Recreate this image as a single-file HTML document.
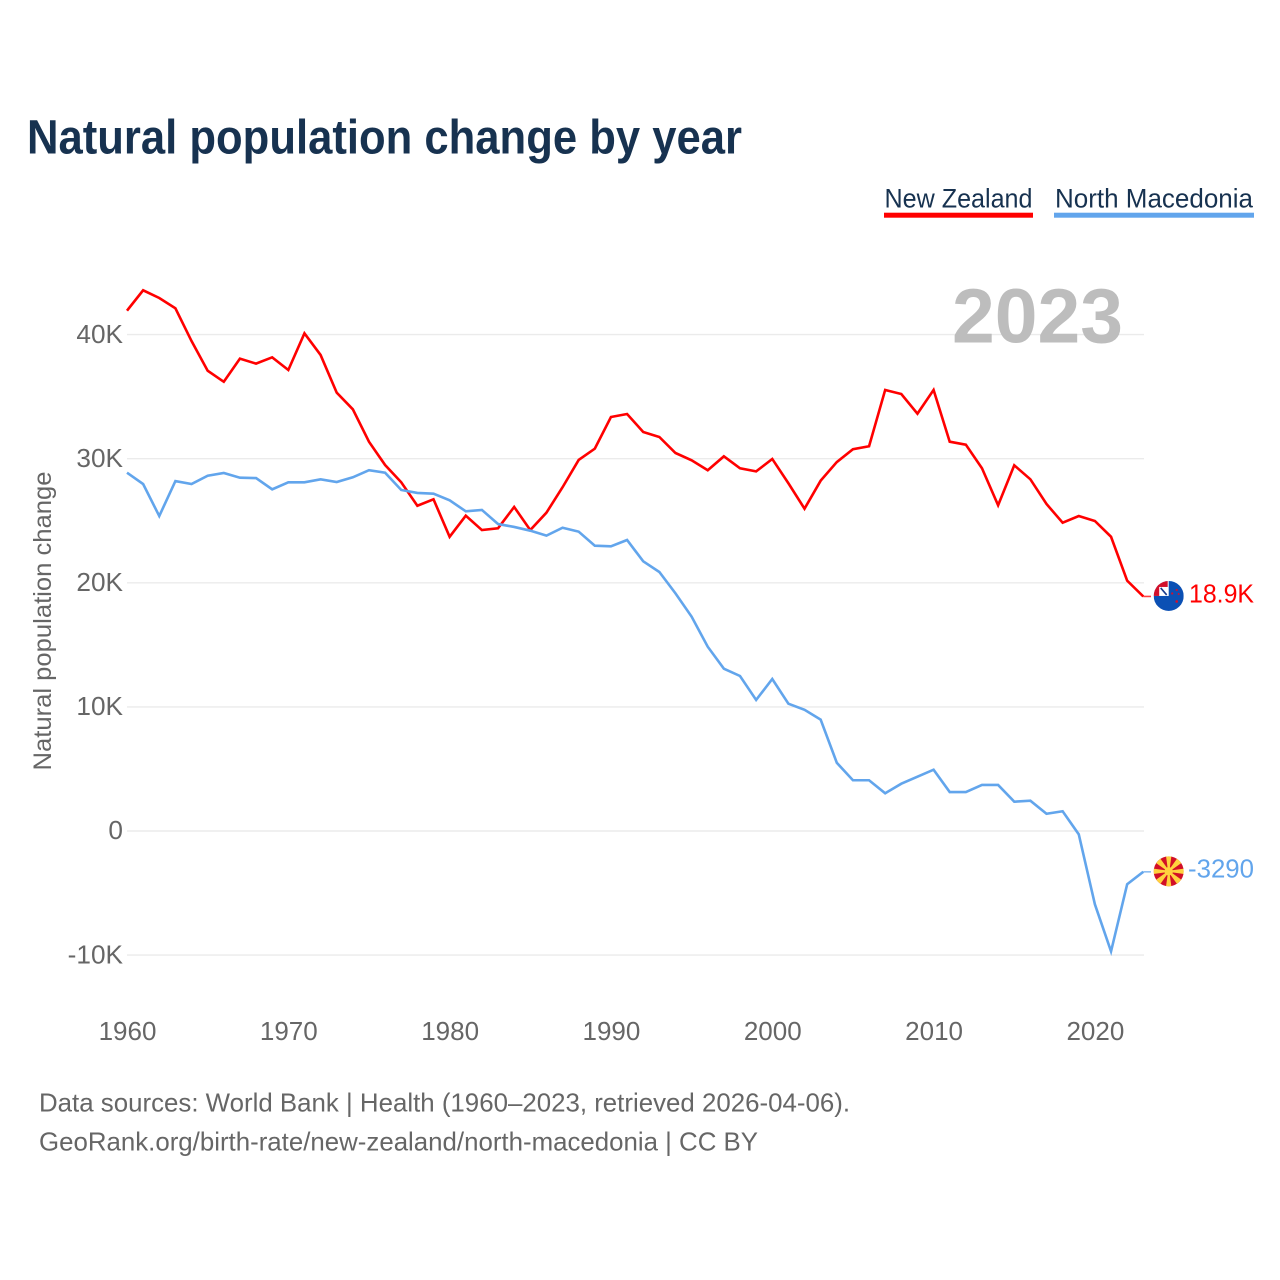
<!DOCTYPE html>
<html lang="en">
<head>
<meta charset="utf-8">
<title>Natural population change by year</title>
<style>
  html, body { margin: 0; padding: 0; background: #fff; }
  #chart { display: block; width: 1280px; height: 1280px; font-family: "Liberation Sans", sans-serif; }
</style>
</head>
<body>
<svg id="chart" xmlns="http://www.w3.org/2000/svg" width="1280" height="1280" viewBox="0 0 1280 1280">
  <rect width="1280" height="1280" fill="#ffffff"/>
  <text x="27" y="153.5" font-size="48" font-weight="700" fill="#173250" textLength="715" lengthAdjust="spacingAndGlyphs">Natural population change by year</text>

  <g>
    <text x="884.5" y="207.7" font-size="27" fill="#173250" textLength="148" lengthAdjust="spacingAndGlyphs">New Zealand</text>
    <rect x="884" y="212.7" width="149" height="5" fill="#ff0000"/>
  </g>
  <g>
    <text x="1055" y="207.7" font-size="27" fill="#173250" textLength="198" lengthAdjust="spacingAndGlyphs">North Macedonia</text>
    <rect x="1054" y="212.7" width="200" height="5" fill="#62a5ec"/>
  </g>

  <g id="grid"></g>
  <text x="952" y="342.5" font-size="77" font-weight="700" fill="#bdbdbd" textLength="171" lengthAdjust="spacingAndGlyphs">2023</text>
  <g id="yTicks"></g>
  <g id="xTicks"></g>
  <text transform="translate(51 621) rotate(-90)" text-anchor="middle" font-size="25" fill="#666666" textLength="299" lengthAdjust="spacingAndGlyphs">Natural population change</text>

  <g id="series"></g>

  <g id="flagNZ">
    <clipPath id="clipNZ"><circle cx="0" cy="0" r="15"/></clipPath>
    <g clip-path="url(#clipNZ)">
      <rect x="-15" y="-15" width="30" height="30" fill="#0b50b4"/>
      <rect x="-15" y="-15" width="15" height="15" fill="#ffffff"/>
      <rect x="-15" y="-15" width="14" height="6" fill="#d2102c"/>
      <rect x="-15" y="-15" width="5.5" height="15" fill="#d2102c"/>
      <path d="M-8 -8 L-2 -1" stroke="#173a8c" stroke-width="1.6" fill="none"/>
      <circle cx="3.5" cy="-2.5" r="1.1" fill="#d2102c"/>
      <circle cx="8" cy="-6" r="1.1" fill="#d2102c"/>
      <circle cx="10" cy="-2" r="1" fill="#d2102c"/>
      <circle cx="8" cy="5.5" r="1.3" fill="#d2102c"/>
    </g>
  </g>
  <g id="flagMK">
    <clipPath id="clipMK"><circle cx="0" cy="0" r="15"/></clipPath>
    <g clip-path="url(#clipMK)">
      <rect x="-15" y="-15" width="30" height="30" fill="#d20f27"/>
      <g fill="#ffd23e">
        <polygon points="-0.6,0 0.6,0 2.8,-16 -2.8,-16"/>
        <polygon points="-0.6,0 0.6,0 2.8,-16 -2.8,-16" transform="rotate(90)"/>
        <polygon points="-0.6,0 0.6,0 2.8,-16 -2.8,-16" transform="rotate(180)"/>
        <polygon points="-0.6,0 0.6,0 2.8,-16 -2.8,-16" transform="rotate(270)"/>
        <polygon points="-0.6,0 0.6,0 3.4,-17 -3.4,-17" transform="rotate(45)"/>
        <polygon points="-0.6,0 0.6,0 3.4,-17 -3.4,-17" transform="rotate(135)"/>
        <polygon points="-0.6,0 0.6,0 3.4,-17 -3.4,-17" transform="rotate(225)"/>
        <polygon points="-0.6,0 0.6,0 3.4,-17 -3.4,-17" transform="rotate(315)"/>
      </g>
      <circle cx="0" cy="0" r="4.2" fill="#ffd23e"/>
    </g>
  </g>
  <text id="labelNZ" x="1254" text-anchor="end" font-size="26" fill="#ff0000" textLength="65" lengthAdjust="spacingAndGlyphs"></text>
  <text id="labelMK" x="1254" text-anchor="end" font-size="26" fill="#62a5ec" textLength="66" lengthAdjust="spacingAndGlyphs"></text>

  <text x="39" y="1111.5" font-size="26" fill="#666666" textLength="811" lengthAdjust="spacingAndGlyphs">Data sources: World Bank | Health (1960–2023, retrieved 2026-04-06).</text>
  <text x="39" y="1150.5" font-size="26" fill="#666666" textLength="719" lengthAdjust="spacingAndGlyphs">GeoRank.org/birth-rate/new-zealand/north-macedonia | CC BY</text>
</svg>
<script>
const years = [1960,1961,1962,1963,1964,1965,1966,1967,1968,1969,1970,1971,1972,1973,1974,1975,1976,1977,1978,1979,1980,1981,1982,1983,1984,1985,1986,1987,1988,1989,1990,1991,1992,1993,1994,1995,1996,1997,1998,1999,2000,2001,2002,2003,2004,2005,2006,2007,2008,2009,2010,2011,2012,2013,2014,2015,2016,2017,2018,2019,2020,2021,2022,2023];
const newZealand = [41930,43570,42950,42120,39480,37090,36200,38060,37660,38170,37150,40100,38360,35320,33980,31370,29490,28100,26210,26730,23710,25410,24250,24390,26110,24250,25650,27700,29900,30810,33360,33600,32150,31750,30460,29870,29070,30190,29230,28980,29980,28020,25970,28230,29730,30760,31000,35540,35210,33630,35540,31370,31130,29230,26250,29470,28340,26350,24840,25380,24980,23710,20170,18900];
const northMacedonia = [28870,27960,25380,28200,27960,28630,28850,28470,28440,27530,28100,28100,28340,28120,28500,29070,28870,27480,27240,27180,26650,25760,25870,24740,24500,24200,23800,24440,24120,22990,22940,23450,21730,20870,19150,17270,14850,13080,12490,10560,12250,10260,9770,8970,5500,4090,4090,3040,3810,4380,4940,3140,3140,3710,3710,2360,2440,1390,1590,-270,-5910,-9700,-4290,-3290];
const yTickValues = [40000,30000,20000,10000,0,-10000];
const yTickLabels = ['40K','30K','20K','10K','0','-10K'];
const xTickValues = [1960,1970,1980,1990,2000,2010,2020];
const endLabelNZ = '18.9K';
const endLabelMK = '-3290';

const SVGNS = 'http://www.w3.org/2000/svg';
const xScale = function (year) { return 127 + (year - 1960) * (1143.3 - 127) / 63; };
const yScale = function (value) { return 831 - value * 124.1 / 10000; };
function make(tag, attrs, parent) {
  const el = document.createElementNS(SVGNS, tag);
  Object.keys(attrs).forEach(function (k) { el.setAttribute(k, attrs[k]); });
  parent.appendChild(el);
  return el;
}

const grid = document.getElementById('grid');
const yTicks = document.getElementById('yTicks');
yTickValues.forEach(function (v, i) {
  const line = make('line', { x1: 127, x2: 1144, y1: yScale(v), y2: yScale(v), stroke: '#ebebeb', 'stroke-width': 1.4 }, grid);
  
  
  const t = make('text', { x: 123, y: yScale(v) + 8.2, 'text-anchor': 'end', 'font-size': 26.2, fill: '#666666' }, yTicks);
  
  
  t.textContent = yTickLabels[i];
});

const xTicks = document.getElementById('xTicks');
xTickValues.forEach(function (y) {
  const t = make('text', { x: xScale(y) + 0.5, y: 1040, 'text-anchor': 'middle', 'font-size': 26, fill: '#666666' }, xTicks);
  
  
  t.textContent = String(y);
});

const seriesGroup = document.getElementById('series');
function drawSeries(values, color, name) {
  const pts = values.map(function (v, i) { return xScale(years[i]).toFixed(2) + ',' + yScale(v).toFixed(2); }).join(' ');
  const line = make('polyline', { points: pts, fill: 'none', stroke: color, 'stroke-width': 2.6, 'stroke-linejoin': 'miter' }, seriesGroup);
  
  
  const lastY = yScale(values[values.length - 1]);
  const stub = make('line', { x1: xScale(years[years.length - 1]), x2: 1151, y1: lastY, y2: lastY, stroke: color, 'stroke-width': 1.6, opacity: 0.75 }, seriesGroup);
  
  
  return lastY;
}
const lastNZ = drawSeries(newZealand, '#ff0000', 'line-new-zealand');
const lastMK = drawSeries(northMacedonia, '#62a5ec', 'line-north-macedonia');

document.getElementById('flagNZ').setAttribute('transform', 'translate(1168.7 ' + (lastNZ - 0.5) + ')');
document.getElementById('flagMK').setAttribute('transform', 'translate(1168.7 ' + (lastMK - 0.5) + ')');
const labelNZ = document.getElementById('labelNZ');
labelNZ.setAttribute('y', lastNZ + 6);
labelNZ.textContent = endLabelNZ;
const labelMK = document.getElementById('labelMK');
labelMK.setAttribute('y', lastMK + 5.5);
labelMK.textContent = endLabelMK;
</script>
</body>
</html>
